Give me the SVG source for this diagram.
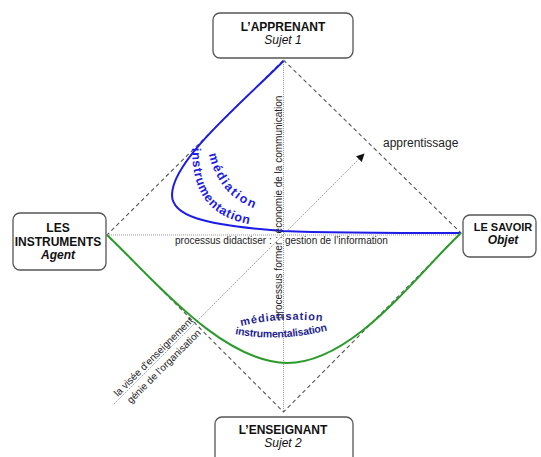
<svg xmlns="http://www.w3.org/2000/svg" width="541" height="457" viewBox="0 0 541 457">
<style>
.box{fill:#fff;stroke:#555;stroke-width:1.3}
.t{font-family:"Liberation Sans",Arial,sans-serif;fill:#111;text-anchor:middle}
.b{font-weight:bold;font-size:12px}
.i{font-style:italic;font-size:12px}
.bi{font-style:italic;font-weight:bold;font-size:12px}
.dash{fill:none;stroke:#555;stroke-width:1.1;stroke-dasharray:4,3}
.dot{fill:none;stroke:#999;stroke-width:1;stroke-dasharray:1,1}
.lbl{font-family:"Liberation Sans",Arial,sans-serif;font-size:10px;fill:#222}
.cur{font-family:"Liberation Sans",Arial,sans-serif;font-weight:bold}
</style>
<defs>
<marker id="ah" viewBox="0 0 10 10" refX="9" refY="5" markerWidth="8" markerHeight="8" markerUnits="userSpaceOnUse" orient="auto">
<path d="M0,0 L10,5 L0,10 z" fill="#111"/>
</marker>
<path id="pMed" d="M209,154 Q 219,199 262,211"/>
<path id="pIns" d="M192,148 C 192,199 213,222 268,227"/>
<path id="pMtis" d="M241,326 Q 283,316 328,322"/>
<path id="pItal" d="M235,334 Q 283,343 333,329"/>
</defs>
<rect width="541" height="457" fill="#fff"/>
<g id="connectors">
<polygon class="dash" points="283.5,60 461,233 283.5,412 107,235"/>
<line class="dot" x1="283.5" y1="60" x2="283.5" y2="412"/>
<line class="dot" x1="107" y1="235" x2="461" y2="235"/>
<line x1="114" y1="404" x2="364" y2="154" stroke="#aaa" stroke-width="1" stroke-dasharray="2,1" marker-end="url(#ah)"/>
<path d="M283.5,61 C 245,100 172,160 172,195 C 172,215 200,225 283,231 C 330,233 400,233 461,233" fill="none" stroke="#1c1ce6" stroke-width="2"/>
<path d="M107,235 C 150,275 220,362 287,363 C 354,363 418,273 461,233" fill="none" stroke="#2a9a2a" stroke-width="2"/>
</g>
<g id="labels">
<text class="lbl" x="175" y="244">processus didactiser :</text>
<text class="lbl" x="285" y="244">gestion de l’information</text>
<text class="lbl" transform="translate(282,319) rotate(-90)">processus former : économie de la communication</text>
<text class="lbl" style="font-size:12px" x="383" y="147">apprentissage</text>
<text class="lbl" transform="translate(118,397) rotate(-45)">la visée d'enseignement</text>
<text class="lbl" transform="translate(131,404) rotate(-45)">génie de l'organisation</text>
<text class="cur" style="font-size:12.5px" letter-spacing="1.8" fill="#1c1ce6"><textPath href="#pMed">médiation</textPath></text>
<text class="cur" style="font-size:12.5px" letter-spacing="0.8" fill="#1c1ce6"><textPath href="#pIns">instrumentation</textPath></text>
<text class="cur" style="font-size:11px" letter-spacing="0.9" fill="#1f1f8f"><textPath href="#pMtis">médiatisation</textPath></text>
<text class="cur" style="font-size:10.5px" letter-spacing="-0.2" fill="#1f1f8f"><textPath href="#pItal">instrumentalisation</textPath></text>
</g>
<g id="node-apprenant">
<rect class="box" x="213" y="13" width="140" height="45" rx="7"/>
<text class="t b" x="283" y="31">L’APPRENANT</text>
<text class="t i" x="283" y="44">Sujet 1</text>
</g>
<g id="node-instruments">
<rect class="box" x="13" y="213" width="93" height="57" rx="7"/>
<text class="t b" x="58" y="232">LES</text>
<text class="t b" x="58" y="246">INSTRUMENTS</text>
<text class="t bi" x="58" y="259">Agent</text>
</g>
<g id="node-savoir">
<rect class="box" x="463" y="215" width="73" height="42" rx="7"/>
<text class="t b" style="font-size:11px" x="503" y="231">LE SAVOIR</text>
<text class="t bi" x="503" y="244">Objet</text>
</g>
<g id="node-enseignant">
<rect class="box" x="215" y="417" width="138" height="48" rx="7"/>
<text class="t b" x="283" y="434">L’ENSEIGNANT</text>
<text class="t i" x="283" y="447">Sujet 2</text>
</g>
</svg>
